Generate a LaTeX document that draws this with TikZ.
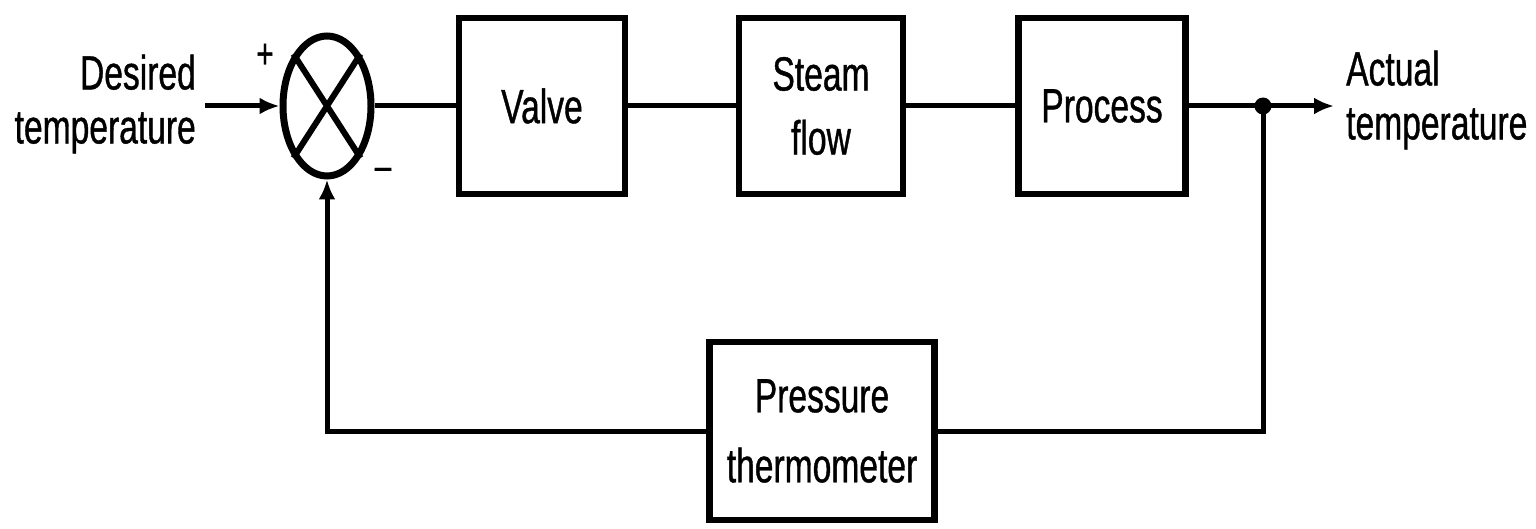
\documentclass[tikz,border=0pt]{standalone}
\usepackage{fontspec}
\setmainfont{Liberation Sans}[FakeStretch=0.70,UprightFeatures={FakeBold=0.8}]
\usetikzlibrary{arrows.meta,shapes.geometric}
\begin{document}
\begin{tikzpicture}[x=1pt,y=-1pt,
  blk/.style={draw, line width=6.5pt, inner sep=0pt, align=center,
    font=\fontsize{48}{64}\selectfont},
  lbl/.style={inner sep=0pt, font=\fontsize{48}{54}\selectfont},
  conn/.style={line width=5pt},
  arr/.style={conn, -{Latex[length=20pt,width=17pt]}},
  sgn/.style={inner sep=0pt, font=\fontsize{42}{42}\selectfont}]
\useasboundingbox (0,0) rectangle (1536,529);
% summing junction
\node[ellipse, draw, line width=7pt, minimum width=88pt, minimum height=140pt, inner sep=0pt] (j) at (327,106) {};
\draw[line width=6pt] (j.north west) -- (j.south east) (j.north east) -- (j.south west);
% blocks
\node[blk, minimum width=166pt, minimum height=176pt] (valve) at (542,106) {Valve};
\node[blk, minimum width=164pt, minimum height=176pt] (steam) at (821,106) {Steam\\flow};
\node[blk, minimum width=167pt, minimum height=176pt] (proc) at (1102,106) {Process};
\node[blk, minimum width=225pt, minimum height=178pt, font=\fontsize{48}{70}\selectfont] (pt) at (822,431) {Pressure\\thermometer};
% labels
\node[lbl, anchor=east, align=right] (des) at (196,104) {Desired\\temperature};
\node[lbl, anchor=west, align=left] (act) at (1346,100) {Actual\\temperature};
\node[sgn] (plus) at (265,56) {+};
\node[sgn] (minus) at (383,174) {–};
% connectors
\coordinate (in) at (205,106);
\coordinate (out) at (1334,106);
\node[circle, fill, minimum size=17pt, inner sep=0pt] (dot) at (1263,106) {};
\draw[arr] (in) -- (j.west);
\draw[conn] (j.east) -- (valve.west);
\draw[conn] (valve.east) -- (steam.west);
\draw[conn] (steam.east) -- (proc.west);
\draw[conn] (proc.east) -- (dot.center);
\draw[arr] (dot.center) -- (out);
\draw[conn] (dot.center) |- (pt.east);
\draw[arr] (pt.west) -| (j.south);
\end{tikzpicture}
\end{document}
